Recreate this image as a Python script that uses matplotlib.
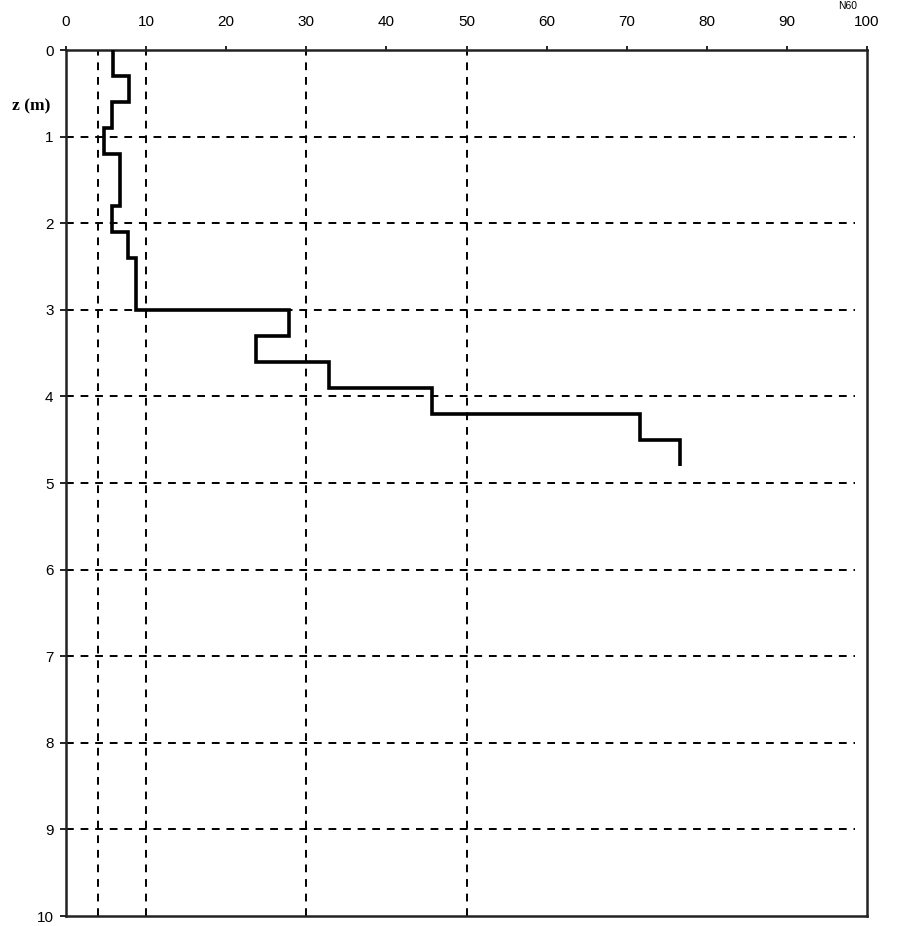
import numpy as np
import matplotlib.pyplot as plt
import matplotlib as mpl

mpl.rcParams['font.family'] = 'Liberation Sans'

# profundidades (m) de los tramos y valores medidos en cada tramo
prof = [0.0, 0.3, 0.6, 0.9, 1.2, 1.5, 1.8, 2.1, 2.4, 2.7, 3.0,
        3.3, 3.6, 3.9, 4.2, 4.5, 4.8]
valores = [5.9, 7.9, 5.7, 4.8, 6.8, 6.8, 5.7, 7.8, 8.7, 8.7,
           27.8, 23.7, 32.8, 45.7, 71.7, 76.7]

x_ticks = list(range(0, 101, 10))
z_ticks = list(range(0, 11))
lineas_x = [4, 10, 30, 50]   # limites de clasificacion
lineas_z = list(range(1, 10))

fig = plt.figure(figsize=(9, 9.26), dpi=100)
ax = fig.add_axes([66/900, 1 - 916/926, (867 - 66)/900, (916 - 50)/926])

guion = (0, (4, 3.5))
for xv in lineas_x:
    ax.axvline(xv, color='k', lw=1.4, ls=guion, zorder=1)
for zv in lineas_z:
    ax.plot([0, 98.5], [zv, zv], color='k', lw=1.4, ls=guion, zorder=1)

ax.stairs(valores, prof, orientation='horizontal', baseline=None,
          color='k', lw=2.6, zorder=3)

ax.set_xlim(0, 100)
ax.set_ylim(10, 0)
ax.xaxis.tick_top()
ax.set_xticks(x_ticks)
ax.set_yticks(z_ticks)
ax.tick_params(axis='x', direction='out', length=3, width=1.2, pad=12,
               labelsize=11)
ax.tick_params(axis='y', direction='out', length=4, width=1.2, pad=5,
               labelsize=11)
for s in ax.spines.values():
    s.set_linewidth(1.8)
    s.set_color('#222222')

fig.text(12/900, 1 - 106/926, 'z (m)', family='Liberation Serif',
         fontweight='bold', fontsize=12.5, va='center', ha='left')
fig.text(848/900, 1 - 1/926, 'N60', fontsize=7.5, ha='center', va='top')

plt.savefig('out.png', dpi=100)
